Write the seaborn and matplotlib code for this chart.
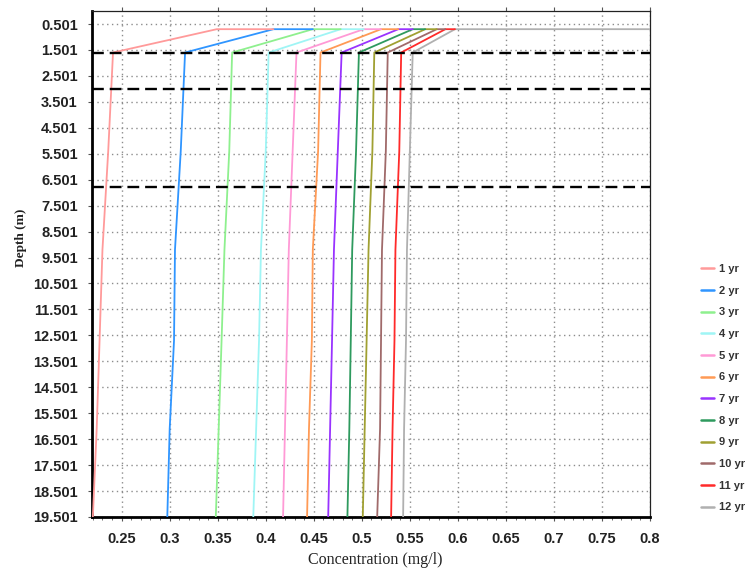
import numpy as np
import pandas as pd
import matplotlib
matplotlib.use("Agg")
import matplotlib.pyplot as plt
from matplotlib.lines import Line2D
from matplotlib.ticker import MultipleLocator, FixedLocator
import seaborn as sns

# ---------------- data ----------------
years = ["1 yr", "2 yr", "3 yr", "4 yr", "5 yr", "6 yr",
         "7 yr", "8 yr", "9 yr", "10 yr", "11 yr", "12 yr"]
colors = ["#ff9a9a", "#2f95ff", "#8ef08e", "#9ff5f5", "#ff9ad6", "#ff9a55",
          "#9933ff", "#2e9a5e", "#a0a032", "#a06a6a", "#ff2a2a", "#b0b0b0"]

# surface segment (depth 0.7 m): right and left ends of the horizontal part
top_right = [0.408, 0.449, 0.478, 0.502, 0.520, 0.538, 0.553, 0.566, 0.578, 0.587, 0.597, 0.85]
top_left = [0.349, 0.408, 0.449, 0.478, 0.502, 0.520, 0.538, 0.553, 0.566, 0.578, 0.587, 0.597]
top_depth = 0.7

profile_depths = [1.6, 5.4, 9.2, 12.7, 16.1, 19.501]
profiles = {
    "1 yr":  [0.241, 0.236, 0.230, 0.227, 0.224, 0.220],
    "2 yr":  [0.316, 0.3115, 0.3055, 0.3045, 0.300, 0.2975],
    "3 yr":  [0.365, 0.362, 0.357, 0.354, 0.351, 0.348],
    "4 yr":  [0.403, 0.400, 0.395, 0.393, 0.390, 0.387],
    "5 yr":  [0.432, 0.428, 0.424, 0.422, 0.420, 0.418],
    "6 yr":  [0.457, 0.4545, 0.449, 0.448, 0.445, 0.443],
    "7 yr":  [0.479, 0.475, 0.471, 0.469, 0.467, 0.465],
    "8 yr":  [0.497, 0.494, 0.490, 0.4885, 0.487, 0.485],
    "9 yr":  [0.513, 0.511, 0.507, 0.505, 0.503, 0.501],
    "10 yr": [0.527, 0.525, 0.521, 0.520, 0.519, 0.516],
    "11 yr": [0.541, 0.539, 0.535, 0.534, 0.532, 0.5305],
    "12 yr": [0.553, 0.550, 0.547, 0.546, 0.544, 0.543],
}

layer_boundaries = [1.6, 3.0, 6.8]

x_ticks = [0.25, 0.3, 0.35, 0.4, 0.45, 0.5, 0.55, 0.6, 0.65, 0.7, 0.75, 0.8]
y_ticks = [0.501, 1.501, 2.501, 3.501, 4.501, 5.501, 6.501, 7.501, 8.501, 9.501,
           10.501, 11.501, 12.501, 13.501, 14.501, 15.501, 16.501, 17.501, 18.501, 19.501]

# ---------------- figure ----------------
sns.set_style("white")
plt.rcParams["font.family"] = ["Liberation Sans", "DejaVu Sans"]

fig = plt.figure(figsize=(7.51, 5.68), dpi=100)
ax = fig.add_axes([0.1221, 0.0898, 0.7434, 0.8908])

rows = []
for i, yr in enumerate(years):
    conc = [top_right[i], top_left[i]] + profiles[yr]
    dep = [top_depth, top_depth] + profile_depths
    for order, (c, d) in enumerate(zip(conc, dep)):
        rows.append({"year": yr, "conc": c, "depth": d, "order": order})
df = pd.DataFrame(rows)

# draw in reverse order so earlier years sit on top
for i in reversed(range(len(years))):
    sub = df[df["year"] == years[i]].sort_values("order")
    sns.lineplot(data=sub, x="conc", y="depth", sort=False, estimator=None,
                 color=colors[i], lw=1.3, ax=ax, legend=False, zorder=3)

for d in layer_boundaries:
    ax.axhline(d, color="black", lw=1.7, dashes=(5, 2.5), zorder=4)

ax.set_xlim(0.2188, 0.8)
ax.set_ylim(19.501, 0.0)
ax.xaxis.set_major_locator(FixedLocator(x_ticks))
ax.xaxis.set_minor_locator(MultipleLocator(0.01))
ax.set_xticklabels([f"{v:g}" for v in x_ticks])
ax.yaxis.set_major_locator(FixedLocator(y_ticks))
ax.set_yticklabels([f"{v:.3f}" for v in y_ticks])

ax.grid(True, which="major", color="#8c8c8c", lw=1.0, linestyle=(0, (1, 2.5)), zorder=1)

for side in ["left", "bottom"]:
    ax.spines[side].set_linewidth(2.0)
    ax.spines[side].set_color("black")
for side in ["top", "right"]:
    ax.spines[side].set_linewidth(0.9)
    ax.spines[side].set_color("#222222")

ax.tick_params(axis="both", which="major", labelsize=10.5, length=3, width=0.8,
               color="#555555", pad=7)
ax.tick_params(axis="x", which="major", bottom=True, top=True, direction="out", pad=8)
ax.tick_params(axis="x", which="minor", bottom=True, length=2, width=0.6, color="#555555")
ax.tick_params(axis="y", which="major", left=True, direction="out")
for lab in ax.get_xticklabels() + ax.get_yticklabels():
    lab.set_fontweight("bold")
    lab.set_color("#222222")

ax.set_xlabel("Concentration (mg/l)", family=["Liberation Serif", "DejaVu Serif"],
              fontsize=11.5, color="#222222")
ax.set_ylabel("Depth (m)", family=["Liberation Serif", "DejaVu Serif"],
              fontsize=9.5, color="#222222", fontweight="bold")
ax.xaxis.set_label_coords(0.507, -0.069)
ax.yaxis.set_label_coords(-0.115, 0.552)

handles = [Line2D([0], [0], color=c, lw=1.8) for c in colors]
leg = fig.legend(handles, years, loc="upper left", bbox_to_anchor=(0.934, 0.535),
                 frameon=False, borderpad=0, borderaxespad=0, fontsize=8,
                 labelspacing=1.05, handlelength=1.1, handletextpad=0.5)
for t in leg.get_texts():
    t.set_fontweight("bold")
    t.set_color("#333333")

fig.savefig("out.png", dpi=100)
